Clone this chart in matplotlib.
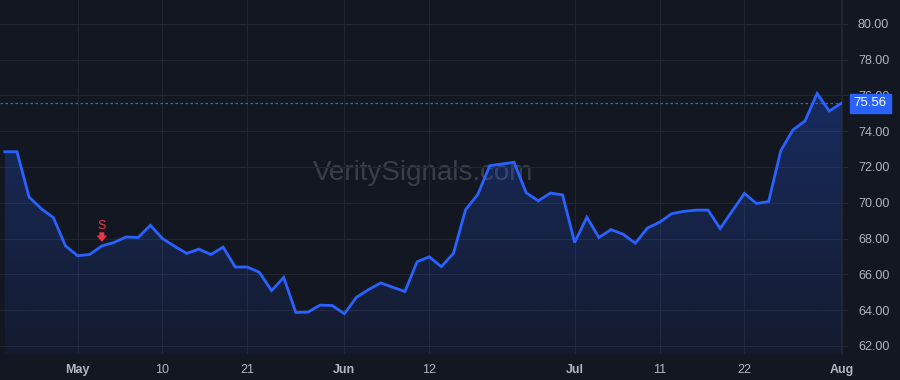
import matplotlib
matplotlib.use('Agg')
import matplotlib.pyplot as plt
import numpy as np

# daily closes, 23 Apr - 1 Aug
closes = [72.85, 72.85, 70.32, 69.67, 69.17, 67.59, 67.04, 67.11, 67.59, 67.78,
          68.09, 68.06, 68.74, 68.00, 67.57, 67.17, 67.41, 67.11, 67.52, 66.41,
          66.41, 66.11, 65.09, 65.83, 63.87, 63.89, 64.28, 64.26, 63.80, 64.72,
          65.15, 65.52, 65.28, 65.04, 66.70, 66.98, 66.43, 67.17, 69.61, 70.46,
          72.07, 72.17, 72.26, 70.56, 70.11, 70.54, 70.44, 67.78, 69.19, 68.06,
          68.50, 68.24, 67.74, 68.59, 68.91, 69.39, 69.52, 69.59, 69.59, 68.56,
          69.54, 70.52, 69.96, 70.07, 72.91, 74.07, 74.57, 76.11, 75.13, 75.56]
tick_idx = [6, 13, 20, 28, 35, 47, 54, 61, 69]
tick_labels = ['May', '10', '21', 'Jun', '12', 'Jul', '11', '22', 'Aug']
month_labels = ['May', 'Jun', 'Jul', 'Aug']
sell_idx = 8
y_ticks = [62, 64, 66, 68, 70, 72, 74, 76, 78, 80]

bg = '#131722'
grid = '#222631'
blue = '#2962FF'
red = '#F23645'
txt = '#B2B5BE'

plt.rcParams['font.family'] = ['Liberation Sans', 'DejaVu Sans']

fig = plt.figure(figsize=(9, 3.8), dpi=100, facecolor=bg)
ax = fig.add_axes([0, 26 / 380, 842 / 900, 354 / 380])
ax.set_facecolor(bg)

x = np.arange(len(closes))
ymin, ymax = 61.55, 81.33
xlim = (-0.4, len(closes) - 1 + 0.05)

# gradient fill under the line
fill = ax.fill_between(x, closes, ymin, color='none')
grad = np.linspace(0, 1, 256).reshape(-1, 1)
cols = np.zeros((256, 1, 4))
cols[..., 0:3] = matplotlib.colors.to_rgb(blue)
cols[..., 3] = 0.06 + 0.22 * grad
img = ax.imshow(cols, extent=[-0.4, len(closes), ymin, max(closes)], origin='lower',
                aspect='auto', zorder=1)
img.set_clip_path(fill.get_paths()[0], transform=ax.transData)
ax.set_xlim(*xlim)
ax.set_ylim(ymin, ymax)

ax.plot(x, closes, color=blue, lw=2, zorder=3, solid_joinstyle='miter')

# last price line + label
last = closes[-1]
ax.axhline(last, color=blue, lw=0.9, ls=(0, (2, 2)), zorder=2)
ax.annotate('%.2f' % last, xy=(1.0, last), xycoords=('axes fraction', 'data'),
            xytext=(8.5, 0), textcoords='offset points', va='center', ha='left',
            color='white', fontsize=9.5, zorder=10, annotation_clip=False,
            bbox=dict(boxstyle='square,pad=0.28', fc=blue, ec=blue))

# sell signal
ax.text(sell_idx, 68.72, 'S', color=red, fontsize=9, ha='center', va='center', zorder=5)
ax.annotate('', xy=(sell_idx, 67.82), xytext=(sell_idx, 68.35),
            arrowprops=dict(arrowstyle='simple,head_width=0.75,head_length=0.45,tail_width=0.35',
                            color=red, lw=0, shrinkA=0, shrinkB=0), zorder=5)

# watermark
ax.text(0.503, 0.512, 'VeritySignals.com', transform=ax.transAxes, fontsize=20,
        color='#8A8F9C', alpha=0.33, ha='center', va='center', zorder=0)

ax.set_yticks(y_ticks)
ax.set_yticklabels(['%.2f' % v for v in y_ticks])
ax.yaxis.tick_right()
ax.set_xticks(tick_idx)
ax.set_xticklabels(tick_labels)
for lbl in ax.get_xticklabels():
    if lbl.get_text() in month_labels:
        lbl.set_fontweight('bold')
ax.tick_params(axis='y', colors=grid, labelcolor=txt, labelsize=9, length=4.5, pad=7)
ax.tick_params(axis='x', length=0, labelcolor=txt, labelsize=9, pad=7)
ax.grid(True, color=grid, lw=0.8)
ax.set_axisbelow(True)
for s in ['top', 'left', 'bottom']:
    ax.spines[s].set_visible(False)
ax.spines['right'].set_color(grid)

fig.savefig('out.png', dpi=100, facecolor=bg)
